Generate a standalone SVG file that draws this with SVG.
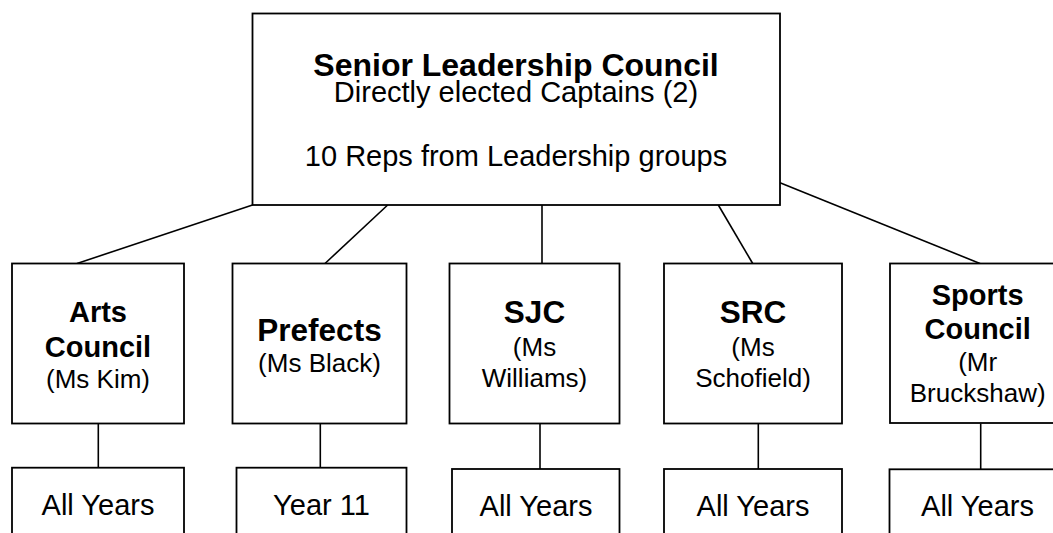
<svg xmlns="http://www.w3.org/2000/svg" width="1053" height="533" viewBox="0 0 1053 533">
<style>
.box{fill:#fff;stroke:#000;stroke-width:1.8}
.ln{stroke:#000;stroke-width:1.6;fill:none}
text{font-family:"Liberation Sans",Arial,sans-serif;fill:#000;text-anchor:middle}
.b32{font-weight:bold;font-size:32px}
.b31{font-weight:bold;font-size:31.5px}
.b29{font-weight:bold;font-size:29px}
.r29{font-size:29px}
.r26{font-size:26px}
</style>
<rect width="1053" height="533" fill="#fff"/>
<g id="connectors">
<line class="ln" x1="252.5" y1="205" x2="77" y2="263.5"/>
<line class="ln" x1="387.7" y1="205" x2="325" y2="263.5"/>
<line class="ln" x1="542" y1="205" x2="542" y2="263.5"/>
<line class="ln" x1="718.3" y1="205" x2="752.7" y2="263.5"/>
<line class="ln" x1="780" y1="182.7" x2="980" y2="263.5"/>
<line class="ln" x1="98.3" y1="423.5" x2="98.3" y2="467.7"/>
<line class="ln" x1="320.3" y1="423.5" x2="320.3" y2="467.7"/>
<line class="ln" x1="540" y1="423.5" x2="540" y2="469"/>
<line class="ln" x1="758.3" y1="423.5" x2="758.3" y2="469"/>
<line class="ln" x1="980.7" y1="423.5" x2="980.7" y2="469"/>
</g>
<g id="slc">
<rect class="box" x="252.5" y="13.5" width="527.5" height="191.5"/>
<text class="b32" x="516" y="76">Senior Leadership Council</text>
<text class="r29" x="516" y="102">Directly elected Captains (2)</text>
<text class="r29" x="516" y="166">10 Reps from Leadership groups</text>
</g>
<g id="arts">
<rect class="box" x="12" y="263.5" width="172" height="160"/>
<text class="b29" x="98" y="322">Arts</text>
<text class="b29" x="98" y="356.5">Council</text>
<text class="r26" x="98" y="387.5">(Ms Kim)</text>
</g>
<g id="prefects">
<rect class="box" x="232.5" y="263.5" width="174" height="160"/>
<text class="b31" x="319.5" y="340.5">Prefects</text>
<text class="r26" x="319.5" y="372">(Ms Black)</text>
</g>
<g id="sjc">
<rect class="box" x="449.5" y="263.5" width="170" height="160"/>
<text class="b31" x="534.5" y="323.3">SJC</text>
<text class="r26" x="534.5" y="356">(Ms</text>
<text class="r26" x="534.5" y="386.7">Williams)</text>
</g>
<g id="src">
<rect class="box" x="664" y="263.5" width="178" height="160"/>
<text class="b31" x="753" y="323.3">SRC</text>
<text class="r26" x="753" y="356">(Ms</text>
<text class="r26" x="753" y="386.7">Schofield)</text>
</g>
<g id="sports">
<rect class="box" x="890" y="263.5" width="180" height="159.5"/>
<text class="b29" x="977.7" y="305">Sports</text>
<text class="b29" x="977.7" y="339.3">Council</text>
<text class="r26" x="977.7" y="370.7">(Mr</text>
<text class="r26" x="977.7" y="401.7">Bruckshaw)</text>
</g>
<g id="arts-years">
<rect class="box" x="12" y="467.7" width="172" height="80"/>
<text class="r29" x="98" y="514.5">All Years</text>
</g>
<g id="prefects-years">
<rect class="box" x="236.5" y="467.7" width="170" height="80"/>
<text class="r29" x="321.5" y="514.5">Year 11</text>
</g>
<g id="sjc-years">
<rect class="box" x="452" y="469" width="167.5" height="80"/>
<text class="r29" x="536" y="515.5">All Years</text>
</g>
<g id="src-years">
<rect class="box" x="664" y="469" width="178" height="80"/>
<text class="r29" x="753" y="515.5">All Years</text>
</g>
<g id="sports-years">
<rect class="box" x="889.5" y="469.3" width="180" height="80"/>
<text class="r29" x="977.5" y="515.5">All Years</text>
</g>
</svg>
